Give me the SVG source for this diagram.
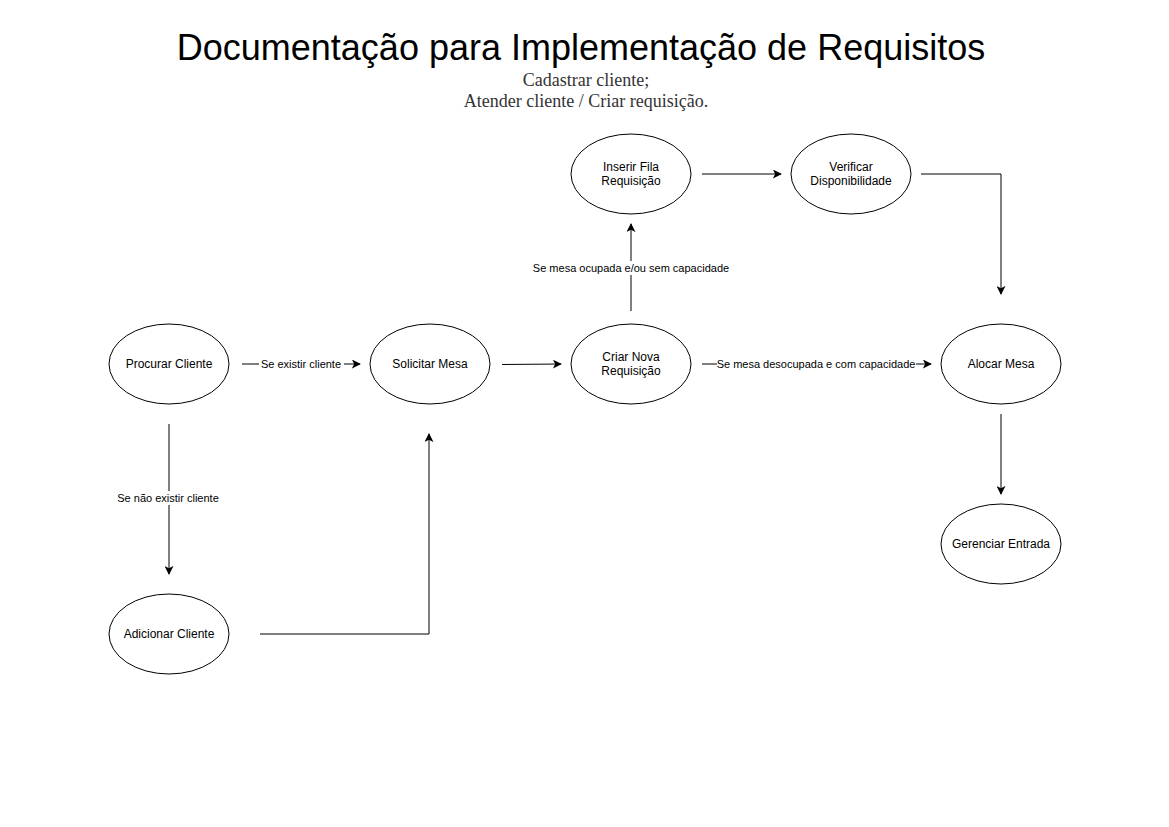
<svg xmlns="http://www.w3.org/2000/svg" width="1169" height="827" viewBox="0 0 1169 827">
<style>
.node ellipse{fill:#fff;stroke:#000;stroke-width:1}
.node text{font-family:"Liberation Sans",Arial,sans-serif;font-size:12px;fill:#000;text-anchor:middle}
.edge{fill:none;stroke:#000;stroke-width:1}
.lbl{font-family:"Liberation Sans",Arial,sans-serif;font-size:11px;fill:#000;text-anchor:middle}
.lblbg{fill:#fff}
.sub{font-family:"Liberation Serif","Times New Roman",serif;font-size:18px;fill:#333;text-anchor:middle}
</style>
<defs>
<marker id="arr" viewBox="0 0 10 10" refX="9" refY="5" markerWidth="9" markerHeight="9" markerUnits="userSpaceOnUse" orient="auto">
<path d="M0,0 L10,5 L0,10 L2.5,5 Z" fill="#000"/>
</marker>
</defs>
<rect width="1169" height="827" fill="#fff"/>
<text x="581" y="60" font-family="'Liberation Sans',Arial,sans-serif" font-size="36" text-anchor="middle" fill="#000">Documentação para Implementação de Requisitos</text>
<text class="sub" x="586" y="86">Cadastrar cliente;</text>
<text class="sub" x="586" y="107">Atender cliente / Criar requisição.</text>

<g id="edges">
<path class="edge" d="M242,364 L360,364" marker-end="url(#arr)"/>
<rect class="lblbg" x="259" y="357" width="85" height="14"/>
<text class="lbl" x="301" y="368">Se existir cliente</text>
<path class="edge" d="M502,364.5 L561,364" marker-end="url(#arr)"/>
<path class="edge" d="M702,364 L931,364" marker-end="url(#arr)"/>
<rect class="lblbg" x="717" y="357" width="199" height="14"/>
<text class="lbl" x="816" y="368">Se mesa desocupada e com capacidade</text>
<path class="edge" d="M631,311 L631,224" marker-end="url(#arr)"/>
<rect class="lblbg" x="532" y="261" width="199" height="14"/>
<text class="lbl" x="631" y="272">Se mesa ocupada e/ou sem capacidade</text>
<path class="edge" d="M702,174 L781,174" marker-end="url(#arr)"/>
<path class="edge" d="M921,174 L1001,174 L1001,294" marker-end="url(#arr)"/>
<path class="edge" d="M169,424 L169,574" marker-end="url(#arr)"/>
<rect class="lblbg" x="116" y="491" width="104" height="14"/>
<text class="lbl" x="168" y="502">Se não existir cliente</text>
<path class="edge" d="M260,634 L429,634 L429,434" marker-end="url(#arr)"/>
<path class="edge" d="M1001,414 L1001,494" marker-end="url(#arr)"/>
</g>

<g id="procurar-cliente" class="node"><ellipse cx="169" cy="364" rx="60" ry="40"/><text x="169" y="368">Procurar Cliente</text></g>
<g id="solicitar-mesa" class="node"><ellipse cx="430" cy="364" rx="60" ry="40"/><text x="430" y="368">Solicitar Mesa</text></g>
<g id="criar-nova-requisicao" class="node"><ellipse cx="631" cy="364" rx="60" ry="40"/><text x="631" y="361">Criar Nova</text><text x="631" y="375">Requisição</text></g>
<g id="alocar-mesa" class="node"><ellipse cx="1001" cy="364" rx="60" ry="40"/><text x="1001" y="368">Alocar Mesa</text></g>
<g id="inserir-fila" class="node"><ellipse cx="631" cy="174" rx="60" ry="40"/><text x="631" y="171">Inserir Fila</text><text x="631" y="185">Requisição</text></g>
<g id="verificar-disponibilidade" class="node"><ellipse cx="851" cy="174" rx="60" ry="40"/><text x="851" y="171">Verificar</text><text x="851" y="185">Disponibilidade</text></g>
<g id="adicionar-cliente" class="node"><ellipse cx="169" cy="634" rx="60" ry="40"/><text x="169" y="638">Adicionar Cliente</text></g>
<g id="gerenciar-entrada" class="node"><ellipse cx="1001" cy="544" rx="60" ry="40"/><text x="1001" y="548">Gerenciar Entrada</text></g>
</svg>
